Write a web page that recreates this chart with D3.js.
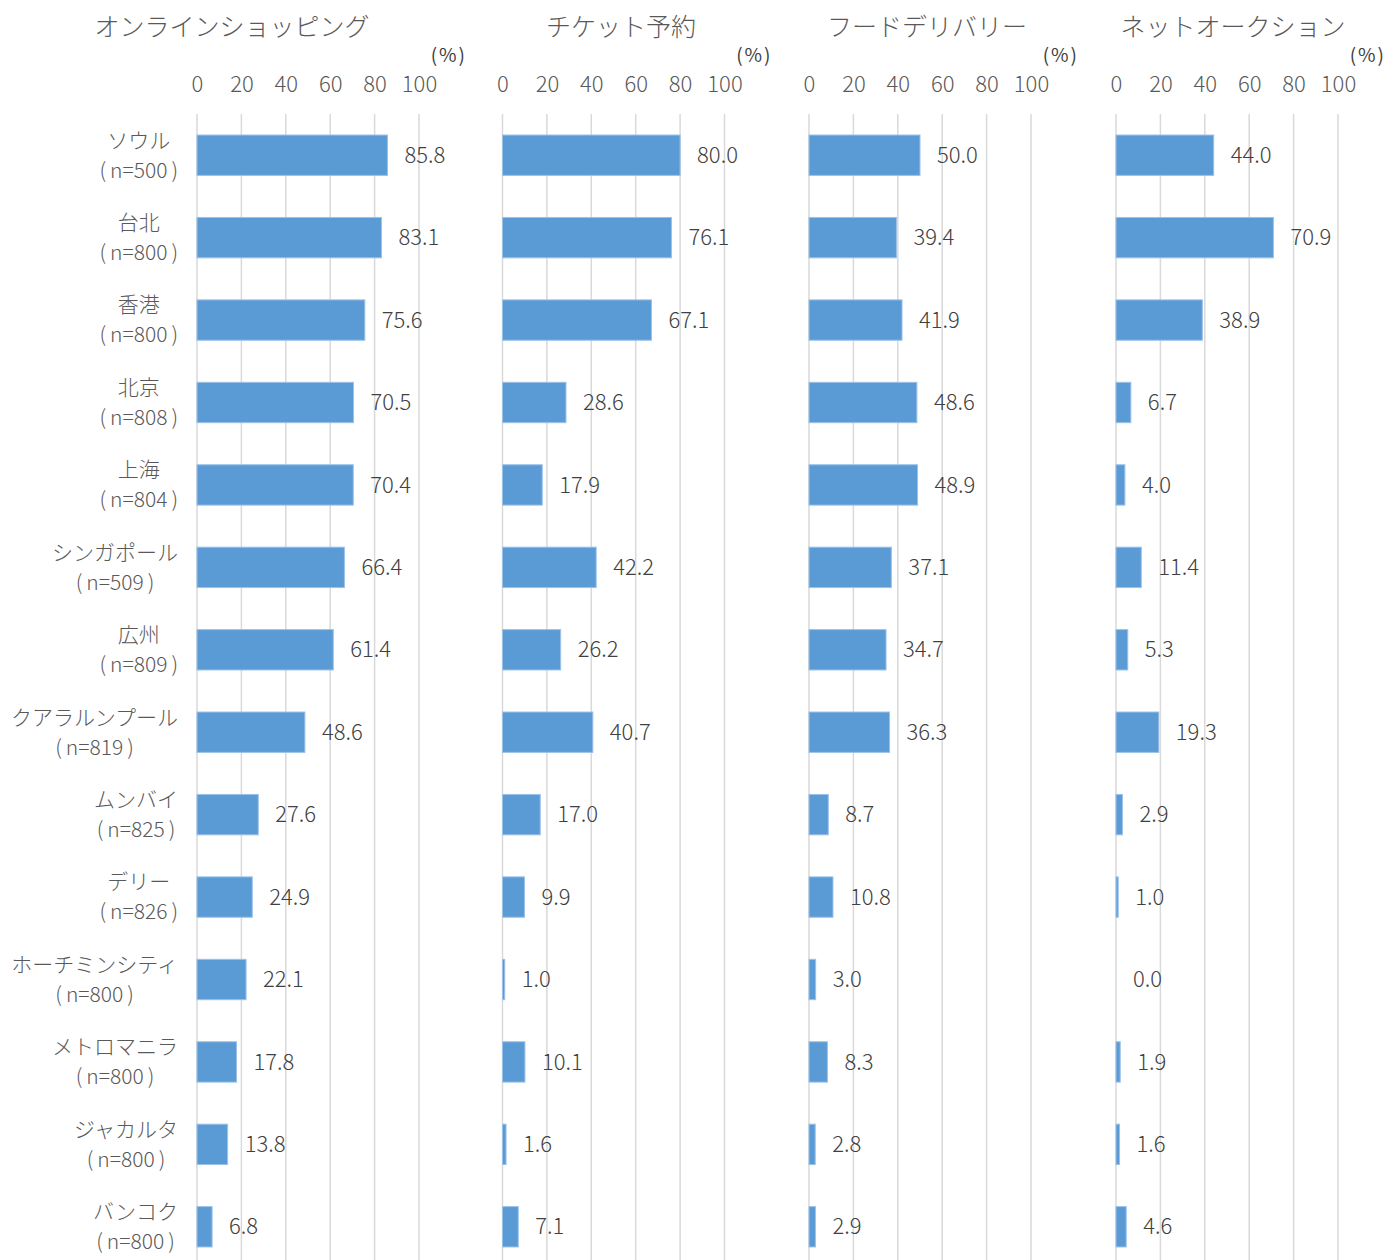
<!DOCTYPE html>
<html>
<head>
<meta charset="utf-8">
<script src="https://cdn.jsdelivr.net/npm/d3@7"></script>
<style>
  body { margin: 0; background: #fff; }
  svg { display: block; font-family: "Noto Sans CJK JP", "Noto Sans", sans-serif; }
</style>
</head>
<body>
<svg></svg>
<script>
var cities = ["ソウル", "台北", "香港", "北京", "上海", "シンガポール", "広州", "クアラルンプール",
              "ムンバイ", "デリー", "ホーチミンシティ", "メトロマニラ", "ジャカルタ", "バンコク"];
var samples = ["n=500", "n=800", "n=800", "n=808", "n=804", "n=509", "n=809",
               "n=819", "n=825", "n=826", "n=800", "n=800", "n=800", "n=800"];

var titles = ["オンラインショッピング", "チケット予約", "フードデリバリー", "ネットオークション"];

var onlineShopping = [85.8, 83.1, 75.6, 70.5, 70.4, 66.4, 61.4, 48.6, 27.6, 24.9, 22.1, 17.8, 13.8, 6.8];
var ticketBooking  = [80.0, 76.1, 67.1, 28.6, 17.9, 42.2, 26.2, 40.7, 17.0, 9.9, 1.0, 10.1, 1.6, 7.1];
var foodDelivery   = [50.0, 39.4, 41.9, 48.6, 48.9, 37.1, 34.7, 36.3, 8.7, 10.8, 3.0, 8.3, 2.8, 2.9];
var netAuction     = [44.0, 70.9, 38.9, 6.7, 4.0, 11.4, 5.3, 19.3, 2.9, 1.0, 0.0, 1.9, 1.6, 4.6];

var tickValues = [0, 20, 40, 60, 80, 100];

var series = [onlineShopping, ticketBooking, foodDelivery, netAuction];

var width = 1385, height = 1260;
var panelLeft = [197, 502.5, 809, 1116],
    panelWidth = 222,
    titleX = [232, 621, 927, 1233];

var svg = d3.select("svg")
    .attr("width", width)
    .attr("height", height);

var y = d3.scaleBand()
    .domain(cities)
    .range([114, 1268])
    .paddingInner(0.51)
    .paddingOuter(0.255);

var textColor = "#595959";

series.forEach(function(values, p) {
  var x = d3.scaleLinear().domain([0, 100]).range([panelLeft[p], panelLeft[p] + panelWidth]);
  var g = svg.append("g");

  // gridlines
  g.selectAll("line.grid")
    .data(tickValues)
    .enter().append("line")
      .attr("class", "grid")
      .attr("x1", function(d) { return x(d); })
      .attr("x2", function(d) { return x(d); })
      .attr("y1", 114)
      .attr("y2", height)
      .attr("stroke", "#d9d9d9")
      .attr("stroke-width", 1.5);

  // top axis
  var axis = g.append("g")
      .attr("transform", "translate(0,84)")
      .call(d3.axisTop(x).tickValues(tickValues).tickSize(0).tickPadding(0));
  axis.select(".domain").remove();
  axis.selectAll("text")
      .attr("font-size", 22)
      .attr("font-weight", 300)
      .attr("dy", "0.35em")
      .attr("fill", textColor)
      .style("font-family", "'Noto Sans CJK JP', sans-serif");

  // unit
  var unit = g.append("text")
      .attr("x", x(100) + 46)
      .attr("y", 56)
      .attr("dy", "0.3em")
      .attr("text-anchor", "end")
      .attr("font-size", 19)
      .attr("fill", "#404040");
  unit.append("tspan").text("(");
  unit.append("tspan").attr("dx", 2).text("%");
  unit.append("tspan").attr("dx", 2).text(")");

  // title
  g.append("text")
      .attr("x", titleX[p])
      .attr("y", 27)
      .attr("dy", "0.35em")
      .attr("text-anchor", "middle")
      .attr("font-size", 25)
      .attr("font-weight", 300)
      .attr("fill", textColor)
      .text(titles[p]);

  // bars
  g.selectAll("rect.bar")
    .data(values)
    .enter().append("rect")
      .attr("class", "bar")
      .attr("x", x(0))
      .attr("y", function(d, i) { return y(cities[i]); })
      .attr("width", function(d) { return x(d) - x(0); })
      .attr("height", y.bandwidth())
      .attr("fill", "#5b9bd5")
      .attr("stroke", function(d) { return d > 0 ? "#9cc2e8" : "none"; })
      .attr("stroke-width", 1);

  // value labels
  g.selectAll("text.val")
    .data(values)
    .enter().append("text")
      .attr("class", "val")
      .attr("x", function(d) { return x(d) + 17; })
      .attr("y", function(d, i) { return y(cities[i]) + y.bandwidth() / 2; })
      .attr("dy", "0.35em")
      .attr("font-size", 22)
      .attr("font-weight", 300)
      .attr("fill", "#404040")
      .text(function(d) { return d.toFixed(1); });
});

// category labels: two lines centered on each other, block right-aligned
var labelRight = 178;
cities.forEach(function(c, i) {
  var cy = y(c) + y.bandwidth() / 2;
  var lg = svg.append("g");
  var t1 = lg.append("text")
      .attr("y", cy - 15)
      .attr("dy", "0.35em")
      .attr("font-size", 21)
      .attr("font-weight", 300)
      .attr("fill", textColor)
      .attr("text-anchor", "middle")
      .text(c);
  var t2 = lg.append("text")
      .attr("y", cy + 15)
      .attr("dy", "0.35em")
      .attr("font-size", 21)
      .attr("font-weight", 300)
      .attr("fill", textColor)
      .attr("text-anchor", "middle");
  // wider gaps inside the parentheses, like the original full-width ones
  t2.append("tspan").text("(");
  t2.append("tspan").attr("dx", 4).text(samples[i]);
  t2.append("tspan").attr("dx", 4).text(")");
  var w = Math.max(t1.node().getComputedTextLength(), t2.node().getComputedTextLength() + 8);
  t1.attr("x", labelRight - w / 2);
  t2.attr("x", labelRight - w / 2);
});
</script>
</body>
</html>
